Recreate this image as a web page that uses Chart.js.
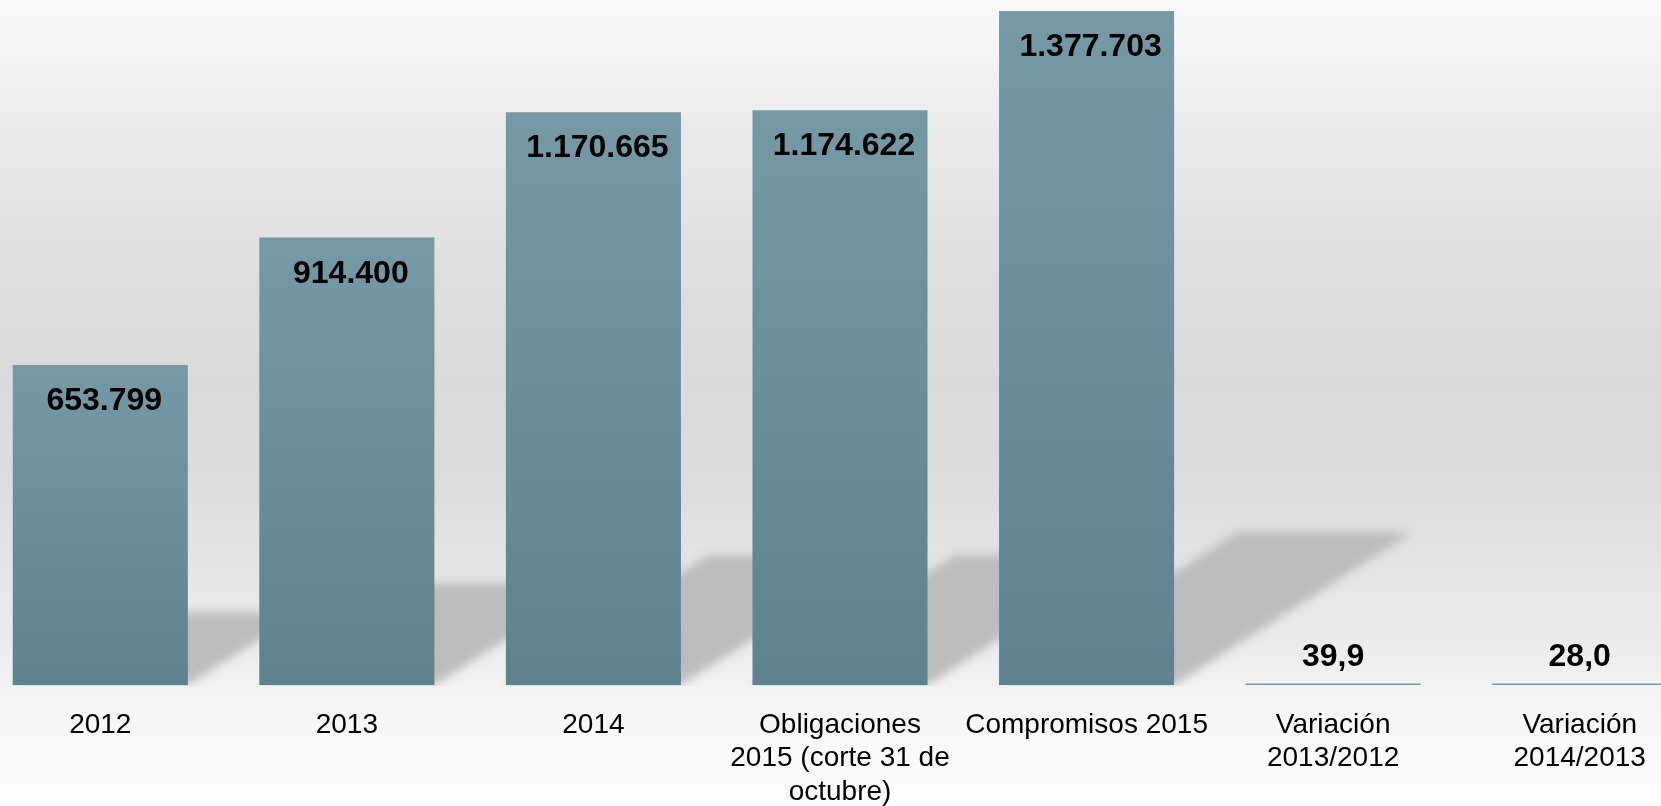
<!DOCTYPE html>
<html>
<head>
<meta charset="utf-8">
<script src="https://cdn.jsdelivr.net/npm/chart.js@4/dist/chart.umd.min.js"></script>
<style>
  html, body { margin: 0; padding: 0; width: 1661px; height: 806px; overflow: hidden; }
  body {
    background: linear-gradient(to bottom, #fafafa 0px, #ececec 120px, #e0e0e0 250px, #dadada 380px,
      #dcdcdc 470px, #e3e3e3 550px, #ebebeb 640px, #f5f5f5 700px, #fefefe 806px);
  }
  #wrap { position: absolute; left: -23px; top: 0; width: 1726px; height: 806px; }
</style>
</head>
<body>
<div id="wrap"><canvas id="c"></canvas></div>
<script>
const categories = [
  '2012',
  '2013',
  '2014',
  ['Obligaciones', '2015 (corte 31 de', 'octubre)'],
  'Compromisos 2015',
  ['Variación', '2013/2012'],
  ['Variación', '2014/2013']
];
const values = [653799, 914400, 1170665, 1174622, 1377703, 39.9, 28.0];
const yMax = 1400000;

function fmt(v) {
  if (v < 1000) return v.toFixed(1).replace('.', ',');
  return Math.round(v).toString().replace(/\B(?=(\d{3})+(?!\d))/g, '.');
}

const shadowPlugin = {
  id: 'shadows',
  beforeDatasetsDraw(chart) {
    const ctx = chart.ctx;
    const meta = chart.getDatasetMeta(0);
    ctx.save();
    ctx.beginPath();
    ctx.rect(0, 0, chart.width, meta.data[0] ? meta.data[0].base + 1 : chart.height);
    ctx.clip();
    ctx.filter = 'blur(5px)';
    ctx.fillStyle = '#bcbcbc';
    meta.data.forEach(bar => {
      const h = bar.base - bar.y;
      if (h < 5) return;
      const sh = 0.227 * h;
      const dx = 1.56 * sh;
      const l = bar.x - bar.width / 2, r = bar.x + bar.width / 2;
      ctx.beginPath();
      ctx.moveTo(l, bar.base);
      ctx.lineTo(r, bar.base);
      ctx.lineTo(r + dx, bar.base - sh);
      ctx.lineTo(l + dx, bar.base - sh);
      ctx.closePath();
      ctx.fill();
    });
    ctx.restore();
  }
};

const labelPlugin = {
  id: 'valueLabels',
  afterDatasetsDraw(chart) {
    const ctx = chart.ctx;
    const meta = chart.getDatasetMeta(0);
    ctx.save();
    ctx.font = 'bold 32px "Liberation Sans"';
    ctx.fillStyle = '#000000';
    ctx.textAlign = 'center';
    ctx.textBaseline = 'alphabetic';
    meta.data.forEach((bar, i) => {
      const v = values[i];
      const h = bar.base - bar.y;
      if (h > 60) {
        ctx.fillText(fmt(v), bar.x + 4, bar.y + 45);
      } else {
        ctx.fillText(fmt(v), bar.x, bar.base - 19);
      }
    });
    ctx.restore();
  }
};

function barColor(c) {
  const chart = c.chart;
  if (!chart.chartArea || !chart.scales.y) return '#6a8e99';
  const ys = chart.scales.y;
  const top = ys.getPixelForValue(c.raw);
  const bottom = ys.getPixelForValue(0);
  if (bottom - top < 3) return '#7a98a3';
  const g = chart.ctx.createLinearGradient(0, top, 0, bottom);
  g.addColorStop(0, '#7599a5');
  g.addColorStop(1, '#5e838e');
  return g;
}

new Chart(document.getElementById('c'), {
  type: 'bar',
  data: {
    labels: categories,
    datasets: [{
      data: values,
      backgroundColor: barColor,
      borderWidth: 0,
      minBarLength: 1.5,
      barPercentage: 0.71,
      categoryPercentage: 1.0
    }]
  },
  options: {
    responsive: true,
    maintainAspectRatio: false,
    animation: false,
    devicePixelRatio: 1,
    layout: { padding: 0 },
    plugins: {
      legend: { display: false },
      tooltip: { enabled: false },
      title: { display: false }
    },
    scales: {
      x: {
        grid: { display: false, drawTicks: false },
        border: { display: false },
        afterFit(scale) { scale.height = 121; },
        ticks: {
          color: '#000000',
          padding: 23,
          maxRotation: 0,
          autoSkip: false,
          font: { family: '"Liberation Sans"', size: 28, lineHeight: 1.2 }
        }
      },
      y: {
        display: false,
        min: 0,
        max: yMax
      }
    }
  },
  plugins: [shadowPlugin, labelPlugin]
});
</script>
</body>
</html>
